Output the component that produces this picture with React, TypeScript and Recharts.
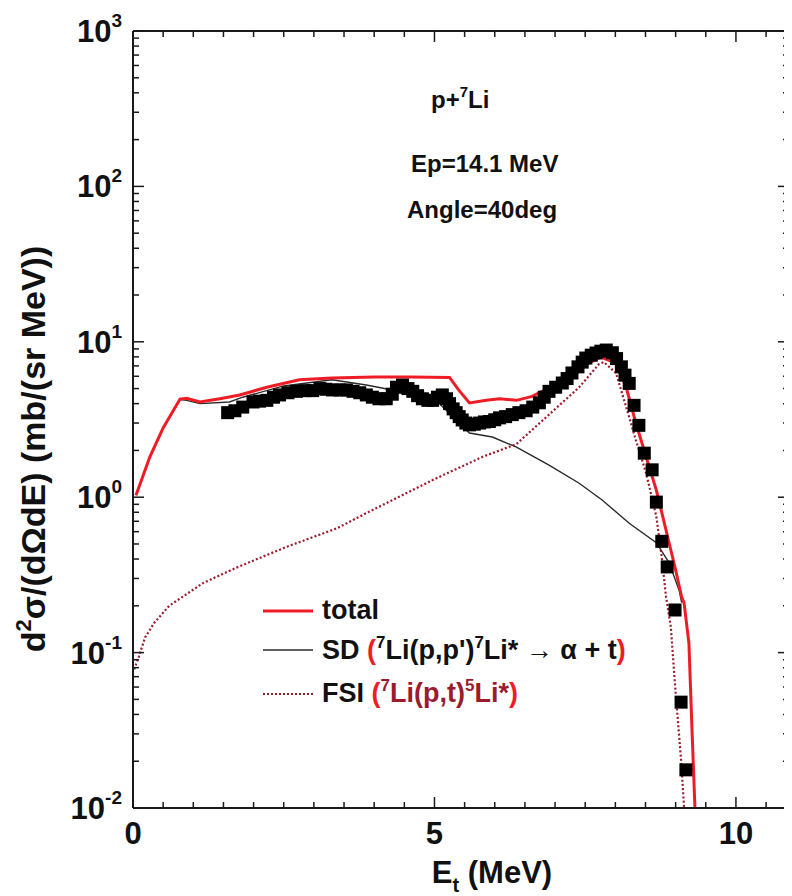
import React from 'react';
import { ComposedChart, Line, Scatter, XAxis, YAxis } from 'recharts';

// ---------- data ----------
const totalX = [0.05, 0.28, 0.5, 0.78, 0.89, 1.11, 1.44, 1.77, 2.22, 2.76, 3.3, 4.0, 4.6, 5.25, 5.4, 5.58, 5.86, 6.08, 6.36, 6.62, 6.9, 7.24, 7.51, 7.76, 8.01, 8.18, 8.34, 8.51, 8.68, 8.84, 9.0, 9.1, 9.14, 9.22, 9.27, 9.32, 9.36];
const totalY = [1.03, 1.82, 2.79, 4.28, 4.33, 4.1, 4.3, 4.55, 5.1, 5.7, 5.85, 5.93, 5.93, 5.9, 4.9, 4.04, 4.2, 4.3, 4.2, 4.45, 5.05, 5.68, 7.1, 7.98, 7.3, 5.1, 3.0, 1.82, 1.11, 0.615, 0.34, 0.228, 0.208, 0.115, 0.033, 0.01, 0.004];

const sdX = [0.05, 0.28, 0.5, 0.78, 0.89, 1.11, 1.6, 1.82, 2.5, 3.3, 3.87, 4.3, 4.5, 4.8, 5.0, 5.3, 5.58, 5.96, 6.36, 6.9, 7.4, 7.78, 8.23, 8.68, 8.89, 9.06, 9.1];
const sdY = [1.03, 1.82, 2.79, 4.25, 4.2, 4.0, 4.1, 4.4, 5.2, 5.7, 5.27, 4.9, 5.0, 4.6, 4.3, 3.3, 2.59, 2.44, 2.1, 1.61, 1.23, 0.96, 0.68, 0.51, 0.38, 0.25, 0.21];

const fsiX = [0.02, 0.1, 0.2, 0.35, 0.6, 1.16, 1.7, 2.55, 3.38, 3.87, 4.97, 5.8, 6.36, 6.9, 7.4, 7.73, 7.81, 8.01, 8.18, 8.34, 8.51, 8.68, 8.77, 8.84, 8.92, 9.0, 9.09, 9.14, 9.17];
const fsiY = [0.078, 0.095, 0.125, 0.155, 0.2, 0.28, 0.35, 0.48, 0.63, 0.79, 1.29, 1.82, 2.2, 3.4, 5.1, 7.2, 7.4, 6.3, 3.8, 2.33, 1.43, 0.75, 0.41, 0.23, 0.146, 0.055, 0.0204, 0.01, 0.005];

const expX = [1.57, 1.69, 1.82, 1.99, 2.1, 2.22, 2.33, 2.43, 2.57, 2.71, 2.85, 2.98, 3.1, 3.2, 3.31, 3.43, 3.54, 3.65, 3.76, 3.87, 3.97, 4.08, 4.2, 4.3, 4.37, 4.47, 4.56, 4.64, 4.72, 4.8, 4.89, 4.97, 5.05, 5.13, 5.2, 5.25, 5.31, 5.36, 5.41, 5.46, 5.52, 5.58, 5.66, 5.75, 5.83, 5.91, 6.0, 6.08, 6.18, 6.29, 6.4, 6.52, 6.63, 6.74, 6.82, 6.9, 7.01, 7.12, 7.2, 7.28, 7.38, 7.45, 7.51, 7.6, 7.68, 7.76, 7.85, 7.95, 8.02, 8.1, 8.16, 8.23, 8.31, 8.39, 8.48, 8.61, 8.68, 8.77, 8.86, 8.99, 9.09, 9.17];
const expY = [3.5, 3.6, 3.8, 4.1, 4.15, 4.2, 4.4, 4.55, 4.7, 4.8, 4.85, 4.85, 5.0, 4.95, 4.9, 4.9, 4.9, 4.8, 4.7, 4.55, 4.4, 4.3, 4.3, 4.6, 5.1, 5.27, 5.0, 4.8, 4.5, 4.3, 4.2, 4.2, 4.4, 4.55, 4.3, 4.0, 3.7, 3.5, 3.3, 3.14, 3.0, 2.92, 2.95, 3.0, 3.05, 3.07, 3.15, 3.24, 3.3, 3.4, 3.5, 3.6, 3.8, 4.05, 4.4, 4.8, 5.1, 5.43, 5.8, 6.3, 6.9, 7.4, 7.86, 8.2, 8.47, 8.7, 8.85, 8.5, 7.8, 6.9, 6.1, 5.4, 3.9, 2.9, 1.92, 1.5, 0.93, 0.52, 0.356, 0.188, 0.048, 0.0176];

const yMajorTicks = [0.01, 0.1, 1, 10, 100, 1000];
const yTickExponents = ['-2', '-1', '0', '1', '2', '3'];
const yMinorMultipliers = [2, 3, 4, 5, 6, 7, 8, 9];
const xTicks = [0, 0.5, 1, 1.5, 2, 2.5, 3, 3.5, 4, 4.5, 5, 5.5, 6, 6.5, 7, 7.5, 8, 8.5, 9, 9.5, 10, 10.5];
const xMajorTicks = [0, 5, 10];
const xTickLabels = ['0', '5', '10'];

const toPoints = (xs: number[], ys: number[]) => xs.map((x, i) => ({ x, y: ys[i] }));
const totalData = toPoints(totalX, totalY);
const sdData = toPoints(sdX, sdY);
const fsiData = toPoints(fsiX, fsiY);
const expData = toPoints(expX, expY);

const yTicks: number[] = [];
yMajorTicks.forEach((m, i) => {
  yTicks.push(m);
  if (i < yMajorTicks.length - 1) yMinorMultipliers.forEach((k) => yTicks.push(+(k * m).toPrecision(6)));
});

// ---------- style ----------
const FONT = "'Liberation Sans', Arial, Helvetica, sans-serif";
const AXIS = '#1a1a1a';
const RED = '#ee1c25';
const DARKRED = '#9b1b2c';

const W = 784;
const H = 888;

const majorIndexY = (v: number) => yMajorTicks.findIndex((m) => Math.abs(Math.log10(m) - Math.log10(v)) < 1e-6);
const majorIndexX = (v: number) => xMajorTicks.findIndex((m) => Math.abs(m - v) < 1e-6);

const LeftTick = (props: any) => {
  const { x, y, payload } = props;
  const idx = majorIndexY(payload.value);
  const major = idx >= 0;
  return (
    <g>
      <line x1={x} x2={x + (major ? 11 : 6)} y1={y} y2={y} stroke={AXIS} strokeWidth={1.5} />
      {major && (
        <text x={x - 11} y={y + 11} textAnchor="end" fontFamily={FONT} fontWeight={700} fontSize={31} fill="#111">
          10
          <tspan dy={-15} fontSize={19}>{yTickExponents[idx]}</tspan>
        </text>
      )}
    </g>
  );
};

const RightTick = (props: any) => {
  const { x, y, payload } = props;
  const major = majorIndexY(payload.value) >= 0;
  return <line x1={x} x2={x - (major ? 11 : 6)} y1={y} y2={y} stroke={AXIS} strokeWidth={1.5} />;
};

const BottomTick = (props: any) => {
  const { x, y, payload } = props;
  const idx = majorIndexX(payload.value);
  const major = idx >= 0;
  return (
    <g>
      <line x1={x} x2={x} y1={y} y2={y - (major ? 11 : 6)} stroke={AXIS} strokeWidth={1.5} />
      {major && (
        <text x={x} y={y + 36} textAnchor="middle" fontFamily={FONT} fontWeight={700} fontSize={31} fill="#111">
          {xTickLabels[idx]}
        </text>
      )}
    </g>
  );
};

const TopTick = (props: any) => {
  const { x, y, payload } = props;
  const major = majorIndexX(payload.value) >= 0;
  return <line x1={x} x2={x} y1={y} y2={y + (major ? 11 : 6)} stroke={AXIS} strokeWidth={1.5} />;
};

const SquareShape = (props: any) => {
  const { cx, cy } = props;
  if (cx == null || cy == null) return null;
  return <rect x={cx - 6.5} y={cy - 6.5} width={13} height={13} fill="#000" />;
};

const txt = { fontFamily: FONT, fontWeight: 700 as const };

export default function App() {
  return (
    <div style={{ position: 'relative', width: W, height: H }}>
      <ComposedChart width={W} height={H} margin={{ top: 22, right: 2, bottom: 58, left: 65 }}>
        <XAxis
          xAxisId="bottom"
          type="number"
          dataKey="x"
          domain={[0, 10.88]}
          allowDataOverflow
          ticks={xTicks}
          interval={0}
          tickSize={0}
          tickMargin={0}
          tickLine={false}
          tick={<BottomTick />}
          axisLine={{ stroke: AXIS, strokeWidth: 2 }}
          height={30}
        />
        <XAxis
          xAxisId="top"
          orientation="top"
          type="number"
          dataKey="x"
          domain={[0, 10.88]}
          allowDataOverflow
          ticks={xTicks}
          interval={0}
          tickSize={0}
          tickMargin={0}
          tickLine={false}
          tick={<TopTick />}
          axisLine={{ stroke: AXIS, strokeWidth: 2 }}
          height={1}
        />
        <YAxis
          yAxisId="left"
          type="number"
          scale="log"
          domain={[0.01, 1000]}
          allowDataOverflow
          ticks={yTicks}
          interval={0}
          tickSize={0}
          tickMargin={0}
          tickLine={false}
          tick={<LeftTick />}
          axisLine={{ stroke: AXIS, strokeWidth: 2 }}
          width={60}
        />
        <YAxis
          yAxisId="right"
          orientation="right"
          type="number"
          scale="log"
          domain={[0.01, 1000]}
          allowDataOverflow
          ticks={yTicks}
          interval={0}
          tickSize={0}
          tickMargin={0}
          tickLine={false}
          tick={<RightTick />}
          axisLine={{ stroke: AXIS, strokeWidth: 2 }}
          width={1}
        />
        <Line
          xAxisId="bottom"
          yAxisId="left"
          data={sdData}
          dataKey="y"
          type="linear"
          stroke="#2a2a2a"
          strokeWidth={1.4}
          dot={false}
          activeDot={false}
          isAnimationActive={false}
        />
        <Scatter
          xAxisId="bottom"
          yAxisId="left"
          data={expData}
          dataKey="y"
          shape={<SquareShape />}
          isAnimationActive={false}
        />
        <Line
          xAxisId="bottom"
          yAxisId="left"
          data={fsiData}
          dataKey="y"
          type="linear"
          stroke={DARKRED}
          strokeWidth={2.2}
          strokeDasharray="2 2.2"
          dot={false}
          activeDot={false}
          isAnimationActive={false}
        />
        <Line
          xAxisId="bottom"
          yAxisId="left"
          data={totalData}
          dataKey="y"
          type="linear"
          stroke={RED}
          strokeWidth={3}
          dot={false}
          activeDot={false}
          isAnimationActive={false}
        />
      </ComposedChart>

      <svg
        width={W}
        height={H}
        style={{ position: 'absolute', left: 0, top: 0, pointerEvents: 'none' }}
      >
        {/* y label */}
        <text
          transform="translate(37, 441) rotate(-90)"
          textAnchor="middle"
          fontSize={34}
          fill="#111"
          {...txt}
        >
          d<tspan dy={-14} fontSize={22}>2</tspan>
          <tspan dy={14}>σ/(dΩdE) (mb/(sr MeV))</tspan>
        </text>

        {/* x label */}
        <text x={484} y={875} textAnchor="middle" fontSize={31} fill="#111" {...txt}>
          E<tspan dy={9} fontSize={20}>t</tspan>
          <tspan dy={-9}> (MeV)</tspan>
        </text>

        {/* annotations */}
        <text x={423} y={100} fontSize={24} fill="#111" {...txt}>
          p+<tspan dy={-11} fontSize={15}>7</tspan>
          <tspan dy={11}>Li</tspan>
        </text>
        <text x={403} y={164} fontSize={24} fill="#111" {...txt}>Ep=14.1 MeV</text>
        <text x={399} y={210} fontSize={24} fill="#111" {...txt}>Angle=40deg</text>

        {/* legend */}
        <line x1={255} x2={305} y1={603} y2={603} stroke={RED} strokeWidth={3} />
        <text x={314} y={611} fontSize={27} fill="#111" {...txt}>total</text>

        <line x1={255} x2={305} y1={642} y2={642} stroke="#2a2a2a" strokeWidth={1.4} />
        <text x={314} y={651} fontSize={27} fill="#111" {...txt}>
          SD <tspan fill={RED}>(</tspan>
          <tspan dy={-11} fontSize={17}>7</tspan>
          <tspan dy={11}>Li(p,p')</tspan>
          <tspan dy={-11} fontSize={17}>7</tspan>
          <tspan dy={11}>Li* → α + t</tspan>
          <tspan fill={RED}>)</tspan>
        </text>

        <line x1={255} x2={305} y1={686} y2={686} stroke={DARKRED} strokeWidth={2} strokeDasharray="2 2" />
        <text x={314} y={694} fontSize={27} fill="#111" {...txt}>
          FSI <tspan fill={RED}>(</tspan>
          <tspan dy={-11} fontSize={17} fill={DARKRED}>7</tspan>
          <tspan dy={11} fill={DARKRED}>Li(p,t)</tspan>
          <tspan dy={-11} fontSize={17} fill={DARKRED}>5</tspan>
          <tspan dy={11} fill={DARKRED}>Li*</tspan>
          <tspan fill={RED}>)</tspan>
        </text>
      </svg>
    </div>
  );
}
